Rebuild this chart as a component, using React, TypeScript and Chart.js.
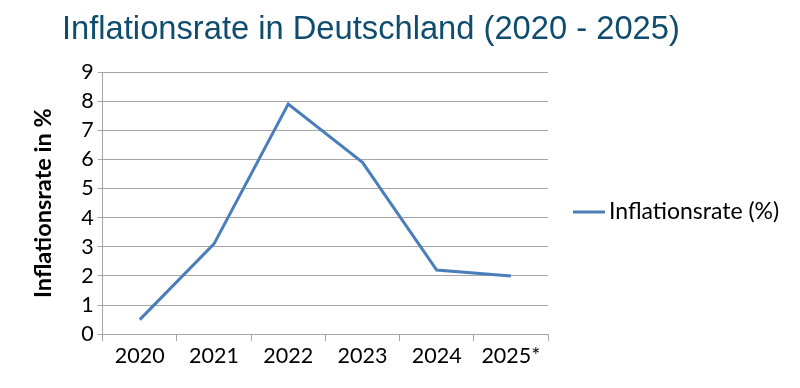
import React, { useEffect, useRef } from "react";
import { Chart, registerables } from "chart.js";

Chart.register(...registerables);

const TITLE = "Inflationsrate in Deutschland (2020 - 2025)";
const years = ["2020", "2021", "2022", "2023", "2024", "2025*"];
const inflation = [0.5, 3.1, 7.9, 5.9, 2.2, 2.0];
const seriesLabel = "Inflationsrate (%)";
const yTitle = "Inflationsrate in %";

const titlePlugin = {
  id: "customTitle",
  afterDraw(chart: any) {
    const ctx = chart.ctx;
    ctx.save();
    ctx.font = "32.7px 'Liberation Sans', Arial, sans-serif";
    ctx.fillStyle = "#0f4c6e";
    ctx.textAlign = "left";
    ctx.textBaseline = "alphabetic";
    ctx.fillText(TITLE, 62, 39);
    ctx.restore();
  },
};

const legendPlugin = {
  id: "customLegend",
  afterDraw(chart: any) {
    const ctx = chart.ctx;
    const ds = chart.data.datasets[0];
    const x0 = chart.chartArea.right + 25;
    const y = 212;
    ctx.save();
    ctx.strokeStyle = ds.borderColor;
    ctx.lineWidth = 3;
    ctx.beginPath();
    ctx.moveTo(x0, y);
    ctx.lineTo(x0 + 32, y);
    ctx.stroke();
    ctx.font = "23px Lato, sans-serif";
    ctx.fillStyle = "#000";
    ctx.textBaseline = "middle";
    ctx.textAlign = "left";
    ctx.fillText(ds.label, x0 + 36, y);
    ctx.restore();
  },
};

export default function App() {
  const ref = useRef<HTMLCanvasElement>(null);
  useEffect(() => {
    if (!ref.current) return;
    const chart = new Chart(ref.current, {
      type: "line",
      data: {
        labels: years,
        datasets: [
          {
            label: seriesLabel,
            data: inflation,
            borderColor: "#4a7ebb",
            backgroundColor: "#4a7ebb",
            borderWidth: 3,
            pointRadius: 0,
            tension: 0,
          },
        ],
      },
      options: {
        animation: false,
        responsive: true,
        maintainAspectRatio: false,
        layout: { padding: { left: 29, right: 252, top: 72, bottom: 17 } },
        plugins: {
          title: { display: false },
          tooltip: { enabled: false },
          legend: { display: false },
        },
        scales: {
          x: {
            offset: true,
            grid: {
              offset: true,
              drawOnChartArea: false,
              drawTicks: true,
              tickLength: 7,
              color: "#a6a6a6",
            },
            border: { color: "#a6a6a6" },
            ticks: { color: "#000", font: { family: "Lato", size: 21.5 }, padding: 2 },
          },
          y: {
            min: 0,
            max: 9,
            ticks: { stepSize: 1, color: "#000", font: { family: "Lato", size: 21.5 }, padding: 4 },
            grid: { color: "#a6a6a6", tickLength: 5 },
            border: { color: "#a6a6a6" },
            title: {
              display: true,
              text: yTitle,
              color: "#000",
              font: { family: "Lato", size: 23.5, weight: "bold" },
              padding: { top: 0, bottom: 20 },
            },
          },
        },
      },
      plugins: [titlePlugin, legendPlugin],
    });
    return () => chart.destroy();
  }, []);
  return (
    <div style={{ position: "fixed", left: 0, top: 0, width: 800, height: 388, background: "#fff" }}>
      <canvas ref={ref} />
    </div>
  );
}
